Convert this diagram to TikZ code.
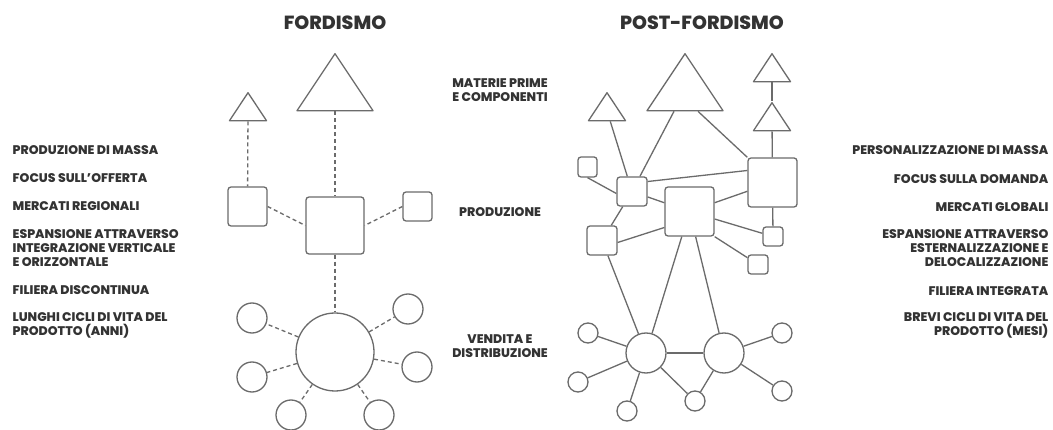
\documentclass[tikz,border=0pt]{standalone}
\usepackage{fontspec}
\setmainfont{Poppins}[BoldFont={Poppins ExtraBold}]
\usetikzlibrary{shapes.geometric}

\definecolor{linegray}{HTML}{6B6B6B}
\definecolor{textgray}{HTML}{333333}

\begin{document}
\begin{tikzpicture}[x=1pt, y=-1pt, line width=1.3pt,
    every node/.style={text=textgray, font=\bfseries\fontsize{12.5}{14}\selectfont},
    tri/.style={draw=linegray, isosceles triangle, isosceles triangle stretches,
        shape border rotate=90, inner sep=0pt, line join=round, anchor=apex},
    bigtri/.style={tri, minimum width=76pt, minimum height=57pt},
    smalltri/.style={tri, minimum width=37pt, minimum height=28pt},
    box/.style={draw=linegray, rounded corners=3pt, inner sep=0pt},
    ring/.style={draw=linegray, circle, inner sep=0pt},
    dashline/.style={draw=linegray, dash pattern=on 4pt off 3pt},
    solidline/.style={draw=linegray},
    lefttext/.style={anchor=west, align=left, inner xsep=0pt},
    righttext/.style={anchor=east, align=right, inner xsep=0pt},
    midtext/.style={align=center},
    title/.style={font=\bfseries\fontsize{19}{21}\selectfont}
]
\fill[white] (0,0) rectangle (1053,430);
\useasboundingbox (0,0) rectangle (1053,430);

% titoli
\node[title] (tFord) at (335,23) {FORDISMO};
\node[title] (tPost) at (702,23) {POST-FORDISMO};

% fordismo
\node[bigtri]   (ftBig)   at (335,52) {};
\node[smalltri] (ftSmall) at (248,91) {};
\node[box, minimum width=39pt, minimum height=39pt] (fsLeft)  at (247.5,206.5) {};
\node[box, minimum width=58pt, minimum height=57pt] (fsMid)   at (335,225.5) {};
\node[box, minimum width=29pt, minimum height=29pt] (fsRight) at (417.5,206.5) {};
\node[ring, minimum size=78pt] (fcMain) at (335,352) {};
\node[ring, minimum size=30pt] (fc1) at (252,318) {};
\node[ring, minimum size=30pt] (fc2) at (408,309) {};
\node[ring, minimum size=30pt] (fc3) at (252,377) {};
\node[ring, minimum size=30pt] (fc4) at (417,367) {};
\node[ring, minimum size=30pt] (fc5) at (291,415) {};
\node[ring, minimum size=30pt] (fc6) at (379,415) {};

\path[dashline]
    (ftSmall)  edge (fsLeft)
    (ftBig)    edge (fsMid)
    (fsLeft.east)  edge (fsMid.west)
    (fsRight.west) edge (fsMid.east)
    (fsMid)    edge (fcMain)
    (fcMain)   edge (fc1) edge (fc2) edge (fc3)
               edge (fc4) edge (fc5) edge (fc6);

% post-fordismo
\node[bigtri]   (ptBig)    at (685,52) {};
\node[smalltri] (ptLeft)   at (607,91) {};
\node[smalltri] (ptTop)    at (772,52) {};
\node[smalltri] (ptSecond) at (772,101) {};
\node[box, minimum width=19pt, minimum height=20pt] (psTiny) at (587.5,167) {};
\node[box, minimum width=30pt, minimum height=29pt] (psA) at (632,191.5) {};
\node[box, minimum width=49pt, minimum height=49pt] (psB) at (689.5,211.5) {};
\node[box, minimum width=49pt, minimum height=49pt] (psC) at (772.5,182.5) {};
\node[box, minimum width=30pt, minimum height=29pt] (psD) at (602,240.5) {};
\node[box, minimum width=20pt, minimum height=19pt] (psE) at (773,236.5) {};
\node[box, minimum width=20pt, minimum height=19pt] (psF) at (758,264.5) {};
\node[ring, minimum size=40pt] (pcLeft)  at (646,353) {};
\node[ring, minimum size=40pt] (pcRight) at (724,353) {};
\node[ring, minimum size=20pt] (pc1) at (588,333) {};
\node[ring, minimum size=20pt] (pc2) at (578,382) {};
\node[ring, minimum size=20pt] (pc3) at (627,411) {};
\node[ring, minimum size=20pt] (pc4) at (695,401) {};
\node[ring, minimum size=20pt] (pc5) at (782,333) {};
\node[ring, minimum size=20pt] (pc6) at (782,391) {};

\path[solidline]
    (ptLeft)   edge (psA)
    (ptBig)    edge (psA)
    ([xshift=13pt]ptBig.south) edge (psC.north west)
    (ptTop)    edge (ptSecond)
    (ptSecond) edge (psC)
    (psTiny.south) edge ([yshift=-2pt]psA.west)
    ([yshift=10pt]psA.east) edge ([yshift=12pt]psC.west)
    (psA)      edge (psB)
               edge (psD)
    (psB)      edge (psC)
               edge (psE)
    ([yshift=-16pt]psB.west) edge ([yshift=-2pt]psD.east)
    (psB.south east) edge (psF)
    (psC)      edge (psE)
    (psD)      edge (pcLeft)
    (psB)      edge (pcLeft)
               edge (pcRight)
    (pcLeft)   edge (pcRight)
               edge (pc1) edge (pc2) edge (pc3) edge (pc4)
    (pcRight)  edge (pc4) edge (pc5) edge (pc6);

% etichette centrali
\node[midtext] (mMaterie) at (500,90)  {MATERIE PRIME\\E COMPONENTI};
\node[midtext] (mProd)    at (500,212) {PRODUZIONE};
\node[midtext] (mVendita) at (500,346) {VENDITA E\\DISTRIBUZIONE};

% colonna sinistra
\node[lefttext] (l1) at (12,150)   {PRODUZIONE DI MASSA};
\node[lefttext] (l2) at (12,178)   {FOCUS SULL’OFFERTA};
\node[lefttext] (l3) at (12,206)   {MERCATI REGIONALI};
\node[lefttext] (l4) at (12,248)   {ESPANSIONE ATTRAVERSO\\INTEGRAZIONE VERTICALE\\E ORIZZONTALE};
\node[lefttext] (l5) at (12,290)   {FILIERA DISCONTINUA};
\node[lefttext] (l6) at (12,325.5) {LUNGHI CICLI DI VITA DEL\\PRODOTTO (ANNI)};

% colonna destra
\node[righttext] (r1) at (1049,150)   {PERSONALIZZAZIONE DI MASSA};
\node[righttext] (r2) at (1049,179)   {FOCUS SULLA DOMANDA};
\node[righttext] (r3) at (1049,207)   {MERCATI GLOBALI};
\node[righttext] (r4) at (1049,248)   {ESPANSIONE ATTRAVERSO\\ESTERNALIZZAZIONE E\\DELOCALIZZAZIONE};
\node[righttext] (r5) at (1049,291)   {FILIERA INTEGRATA};
\node[righttext] (r6) at (1049,325)   {BREVI CICLI DI VITA DEL\\PRODOTTO (MESI)};
\end{tikzpicture}
\end{document}
